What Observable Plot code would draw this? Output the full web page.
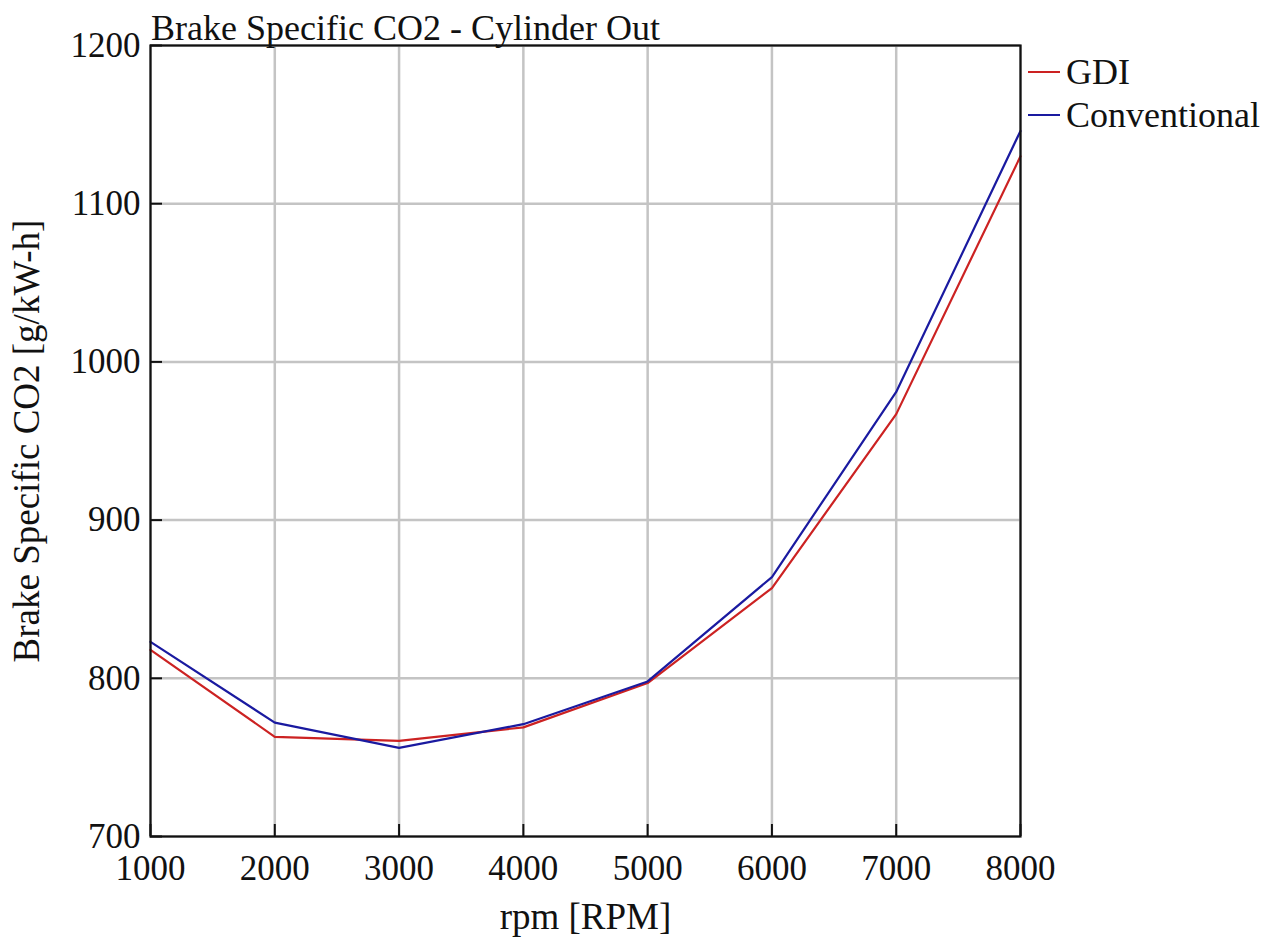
<!DOCTYPE html>
<html><head><meta charset="utf-8">
<script src="https://cdn.jsdelivr.net/npm/d3@7"></script>
<script src="https://cdn.jsdelivr.net/npm/@observablehq/plot@0.6"></script>
<style>
body{margin:0;background:#fff;}
#wrap{position:relative;width:1270px;height:945px;font-family:"Liberation Serif",serif;}
#title{position:absolute;left:151px;top:10px;font-size:36px;line-height:1;color:#111;white-space:nowrap;}
#legend{position:absolute;left:1028px;top:50px;font-size:36px;color:#111;}
.li{display:flex;align-items:center;height:43px;}
.sw{width:32px;height:2px;margin-right:6px;}
</style></head>
<body><div id="wrap"><div id="title"></div><div id="legend"></div></div>
<script>
const rpm = [1000,2000,3000,4000,5000,6000,7000,8000];
const seriesNames = ["GDI","Conventional"];
const gdi = [818,763,760.5,769,797,857,967,1130];
const conventional = [823,772,756,771,798,864,981,1146];
const xTicks = [1000,2000,3000,4000,5000,6000,7000,8000];
const yTicks = [700,800,900,1000,1100,1200];
const colors = ["#cc2222","#1a1aa0"];
const titleText = "Brake Specific CO2 - Cylinder Out";

const data = [];
rpm.forEach((r,i)=>{data.push({rpm:r,v:gdi[i],s:"GDI"});data.push({rpm:r,v:conventional[i],s:"Conventional"});});

const chart = Plot.plot({
  width:1270, height:945,
  marginLeft:150, marginRight:250, marginTop:45, marginBottom:109,
  style:{fontFamily:"Liberation Serif, serif", fontSize:"35px", color:"#111", background:"#fff"},
  x:{domain:[1000,8000], ticks:xTicks, tickFormat:d=>String(d), label:"rpm [RPM]"},
  y:{domain:[700,1200], ticks:yTicks, tickFormat:d=>String(d), label:"Brake Specific CO2 [g/kW-h]"},
  color:{domain:seriesNames, range:colors},
  marks:[
    Plot.gridX(xTicks,{stroke:"#c4c4c4", strokeOpacity:1, strokeWidth:2.5}),
    Plot.gridY(yTicks,{stroke:"#c4c4c4", strokeOpacity:1, strokeWidth:2.5}),
    Plot.axisX({ticks:xTicks, tickSize:-12, tickPadding:31, tickFormat:d=>String(d), fontSize:35, label:null, stroke:"#111", strokeWidth:2}),
    Plot.axisX({ticks:[], label:"rpm [RPM]", labelAnchor:"center", labelOffset:92, labelArrow:"none", fontSize:37}),
    Plot.axisY({ticks:yTicks, tickSize:-12, tickPadding:22, tickFormat:d=>String(d), fontSize:35, label:null, stroke:"#111", strokeWidth:2}),
    Plot.axisY({ticks:[], label:"Brake Specific CO2 [g/kW-h]", labelAnchor:"center", labelOffset:138, labelArrow:"none", fontSize:37}),
    Plot.line(data,{x:"rpm", y:"v", z:"s", stroke:"s", strokeWidth:2.2}),
    Plot.frame({stroke:"#111", strokeWidth:2.2})
  ]
});
document.getElementById("wrap").prepend(chart);
document.getElementById("title").textContent = titleText;
const lg = document.getElementById("legend");
seriesNames.forEach((n,i)=>{
  const d = document.createElement("div"); d.className="li";
  d.innerHTML = `<span class="sw" style="background:${colors[i]}"></span><span>${n}</span>`;
  lg.appendChild(d);
});
</script></body></html>
